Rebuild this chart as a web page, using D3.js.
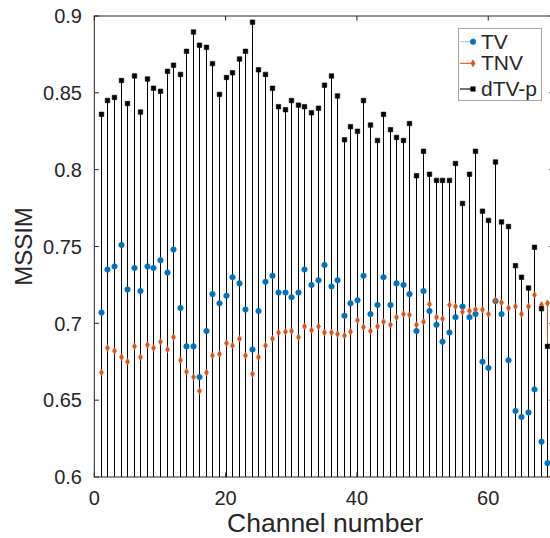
<!DOCTYPE html>
<html>
<head>
<meta charset="utf-8">
<script src="https://cdn.jsdelivr.net/npm/d3@7"></script>
<style>
  html, body { margin: 0; padding: 0; background: #fff; }
  svg { display: block; }
  text { font-family: "Liberation Sans", Arial, Helvetica, sans-serif; fill: #262626; }
</style>
</head>
<body>
<svg id="chart" width="550" height="538"></svg>
<script>
const channels = [1,2,3,4,5,6,7,8,9,10,11,12,13,14,15,16,17,18,19,20,21,22,23,24,25,26,27,28,29,30,31,32,33,34,35,36,37,38,39,40,41,42,43,44,45,46,47,48,49,50,51,52,53,54,55,56,57,58,59,60,61,62,63,64,65,66,67,68,69];

const tvValues = [0.707,0.735,0.737,0.751,0.722,0.736,0.721,0.737,0.736,0.741,
  0.733,0.748,0.710,0.685,0.685,0.665,0.695,0.719,0.713,0.718,
  0.730,0.726,0.709,0.683,0.708,0.727,0.731,0.720,0.720,0.717,
  0.720,0.735,0.725,0.728,0.738,0.724,0.728,0.705,0.713,0.715,
  0.731,0.706,0.712,0.730,0.712,0.726,0.725,0.719,0.695,0.721,
  0.708,0.699,0.688,0.694,0.704,0.711,0.704,0.706,0.675,0.671,
  0.7145,0.706,0.676,0.643,0.639,0.642,0.657,0.623,0.609];

const tnvValues = [0.668,0.684,0.682,0.678,0.675,0.685,0.678,0.686,0.684,0.688,
  0.683,0.691,0.676,0.6685,0.665,0.656,0.668,0.679,0.680,0.687,
  0.6855,0.690,0.679,0.667,0.678,0.6855,0.690,0.694,0.6945,0.695,
  0.691,0.698,0.6955,0.698,0.694,0.694,0.693,0.692,0.6945,0.702,
  0.6975,0.695,0.698,0.701,0.699,0.704,0.706,0.7055,0.699,0.701,
  0.7125,0.704,0.703,0.712,0.711,0.7075,0.708,0.709,0.709,0.706,
  0.715,0.7135,0.710,0.711,0.706,0.711,0.7185,0.712,0.713];

const dtvpValues = [0.836,0.845,0.847,0.858,0.843,0.861,0.8375,0.859,0.853,0.851,
  0.864,0.868,0.862,0.877,0.8896,0.881,0.8796,0.869,0.849,0.860,
  0.863,0.872,0.877,0.896,0.865,0.862,0.853,0.841,0.839,0.845,
  0.842,0.841,0.837,0.840,0.855,0.861,0.848,0.8195,0.828,0.825,
  0.845,0.829,0.819,0.836,0.826,0.821,0.819,0.830,0.796,0.812,
  0.797,0.793,0.793,0.793,0.804,0.778,0.797,0.812,0.773,0.767,
  0.805,0.766,0.763,0.7375,0.730,0.723,0.7495,0.7095,0.685];

const seriesNames = ["TV", "TNV", "dTV-p"];
const xTicks = [0, 20, 40, 60];
const yTicks = [0.6, 0.65, 0.7, 0.75, 0.8, 0.85, 0.9];
const yTickLabels = ["0.6", "0.65", "0.7", "0.75", "0.8", "0.85", "0.9"];
const xDomain = [0, 70];
const yDomain = [0.6, 0.9];

const series = [
  { name: seriesNames[0], values: tvValues, color: "#0072BD", stem: "#a9cce8", shape: "circle" },
  { name: seriesNames[1], values: tnvValues, color: "#D95319", stem: "#D95319", shape: "diamond" },
  { name: seriesNames[2], values: dtvpValues, color: "#000000", stem: "#000000", shape: "square" }
];

const svg = d3.select("#chart");
const L = 94.3, R = 553.9, T = 16, B = 477;
const x = d3.scaleLinear().domain(xDomain).range([L, R]);
const y = d3.scaleLinear().domain(yDomain).range([B, T]);
const axisColor = "#262626";

svg.append("defs").append("clipPath").attr("id", "plotclip")
  .append("rect").attr("x", L).attr("y", T).attr("width", R - L).attr("height", B - T);

const plot = svg.append("g").attr("clip-path", "url(#plotclip)");

// stems (pixel-snapped so the black stems fully cover the coloured ones)
const sx = v => Math.round(x(v)) + 0.5;
series.forEach(s => {
  plot.append("g").attr("shape-rendering", "crispEdges")
    .selectAll("line").data(s.values).join("line")
    .attr("x1", (d, i) => sx(channels[i]))
    .attr("x2", (d, i) => sx(channels[i]))
    .attr("y1", y(yDomain[0]) + 2)
    .attr("y2", d => y(d))
    .attr("stroke", s.stem)
    .attr("stroke-width", 1);
});

const symbols = {
  circle: d3.symbol().type(d3.symbolCircle).size(24),
  diamond: d3.symbol().type(d3.symbolDiamond).size(14),
  square: d3.symbol().type(d3.symbolSquare).size(20)
};

series.forEach(s => {
  plot.append("g").selectAll("path").data(s.values).join("path")
    .attr("d", symbols[s.shape])
    .attr("transform", (d, i) => `translate(${sx(channels[i])},${y(d)})`)
    .attr("fill", s.color)
    .attr("stroke", s.color)
    .attr("stroke-width", 0.6);
});

// axes box
const axes = svg.append("g");
axes.append("rect").attr("x", L).attr("y", T).attr("width", R - L).attr("height", B - T)
  .attr("fill", "none").attr("stroke", axisColor).attr("stroke-width", 1);

const tl = 4.6;
xTicks.forEach(t => {
  axes.append("line").attr("x1", x(t)).attr("x2", x(t)).attr("y1", B).attr("y2", B - tl).attr("stroke", axisColor);
  axes.append("line").attr("x1", x(t)).attr("x2", x(t)).attr("y1", T).attr("y2", T + tl).attr("stroke", axisColor);
  axes.append("text").attr("x", x(t)).attr("y", 504.5).attr("text-anchor", "middle")
    .attr("font-size", 20).text(t);
});
yTicks.forEach((t, i) => {
  axes.append("line").attr("x1", L).attr("x2", L + tl).attr("y1", y(t)).attr("y2", y(t)).attr("stroke", axisColor);
  axes.append("line").attr("x1", R).attr("x2", R - tl).attr("y1", y(t)).attr("y2", y(t)).attr("stroke", axisColor);
  axes.append("text").attr("x", 82).attr("y", y(t) + 7.2).attr("text-anchor", "end")
    .attr("font-size", 20).text(yTickLabels[i]);
});

svg.append("text").attr("x", 325).attr("y", 532).attr("text-anchor", "middle")
  .attr("font-size", 26.5).text("Channel number");
svg.append("text").attr("transform", `translate(32,${(T + B) / 2}) rotate(-90)`)
  .attr("text-anchor", "middle").attr("font-size", 24).text("MSSIM");

// legend
const lg = svg.append("g");
lg.append("rect").attr("x", 458.5).attr("y", 28.5).attr("width", 83).attr("height", 72)
  .attr("fill", "#fff").attr("stroke", "#a6a6a6").attr("stroke-width", 1);
const legendY = [41.7, 63.3, 89];
series.forEach((s, i) => {
  const cy = legendY[i];
  lg.append("line").attr("x1", 460).attr("x2", 473).attr("y1", cy).attr("y2", cy)
    .attr("stroke", s.stem).attr("stroke-width", 1.1);
  lg.append("path").attr("d", symbols[s.shape]).attr("transform", `translate(473,${cy})`)
    .attr("fill", s.color).attr("stroke", s.color).attr("stroke-width", 0.6);
  lg.append("text").attr("x", 481).attr("y", cy + 7).attr("font-size", 21).text(s.name);
});
</script>
</body>
</html>
